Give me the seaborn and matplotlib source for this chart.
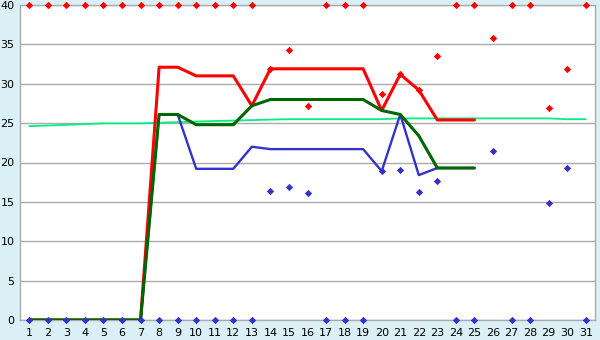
import matplotlib
matplotlib.use("Agg")
import matplotlib.pyplot as plt
import seaborn as sns
import pandas as pd

# ---- data ----
days = list(range(1, 32))
line_days = list(range(1, 26))
red_line = [0, 0, 0, 0, 0, 0, 0, 32.1, 32.1, 31.0, 31.0, 31.0, 27.2, 31.9, 31.9, 31.9,
            31.9, 31.9, 31.9, 26.6, 31.2, 29.2, 25.4, 25.4, 25.4]
blue_line = [0, 0, 0, 0, 0, 0, 0, 26.1, 26.1, 19.2, 19.2, 19.2, 22.0, 21.7, 21.7, 21.7,
             21.7, 21.7, 21.7, 18.9, 26.1, 18.4, 19.3, 19.3, 19.3]
green_line = [0, 0, 0, 0, 0, 0, 0, 26.1, 26.1, 24.8, 24.8, 24.8, 27.2, 28.0, 28.0, 28.0,
              28.0, 28.0, 28.0, 26.6, 26.1, 23.4, 19.3, 19.3, 19.3]
trend_line = [24.62, 24.7, 24.78, 24.88, 24.97, 24.97, 24.97, 25.05, 25.12, 25.2, 25.27,
              25.32, 25.38, 25.45, 25.5, 25.5, 25.5, 25.5, 25.5, 25.5, 25.6, 25.6, 25.6,
              25.6, 25.6, 25.6, 25.6, 25.6, 25.6, 25.5, 25.5]
red_dots = [40, 40, 40, 40, 40, 40, 40, 40, 40, 40, 40, 40, 40, 31.9, 34.3, 27.2,
            40, 40, 40, 28.7, 31.2, 29.2, 33.5, 40, 40, 35.8, 40, 40, 26.9, 31.9, 40]
blue_dots = [0, 0, 0, 0, 0, 0, 0, 0, 0, 0, 0, 0, 0, 16.4, 16.9, 16.1,
             0, 0, 0, 18.9, 19.0, 16.2, 17.6, 0, 0, 21.5, 0, 0, 14.8, 19.3, 0]
y_ticks = [0, 5, 10, 15, 20, 25, 30, 35, 40]

# ---- style ----
bg = "#DAF0F6"
grid_c = "#ABABAB"
sns.set_style("white")
plt.rcParams["font.family"] = ["DejaVu Sans"]

fig = plt.figure(figsize=(6, 3.4), dpi=100, facecolor=bg)
ax = fig.add_axes([20 / 600, 1 - 320 / 340, 575 / 600, 315 / 340])
ax.set_facecolor("white")

lines_df = pd.DataFrame({"day": line_days, "red": red_line, "blue": blue_line,
                         "green": green_line})
trend_df = pd.DataFrame({"day": days, "trend": trend_line})
dots_df = pd.DataFrame({"day": days, "hi": red_dots, "lo": blue_dots})

sns.lineplot(data=trend_df, x="day", y="trend", ax=ax, color="#00F080", linewidth=1.3,
             zorder=2)
sns.lineplot(data=lines_df, x="day", y="red", ax=ax, color="#FF0000", linewidth=2.2,
             zorder=3)
sns.lineplot(data=lines_df, x="day", y="blue", ax=ax, color="#3333CC", linewidth=1.7,
             zorder=4)
sns.lineplot(data=lines_df, x="day", y="green", ax=ax, color="#006600", linewidth=2.2,
             zorder=5)
sns.scatterplot(data=dots_df, x="day", y="hi", ax=ax, color="#FF0000", marker="D",
                s=14, linewidth=0, zorder=6, clip_on=False)
sns.scatterplot(data=dots_df, x="day", y="lo", ax=ax, color="#3333CC", marker="D",
                s=14, linewidth=0, zorder=6, clip_on=False)

ax.set_xlim(0.5, 31.5)
ax.set_ylim(0, 40)
ax.set_xticks(days)
ax.set_xticklabels([str(d) for d in days])
ax.set_yticks(y_ticks)
ax.set_yticklabels([str(v) for v in y_ticks])
ax.set_xlabel("")
ax.set_ylabel("")
ax.grid(axis="y", color=grid_c, linewidth=1)
ax.set_axisbelow(True)
for s in ax.spines.values():
    s.set_color(grid_c)
    s.set_linewidth(1)
ax.tick_params(axis="x", direction="out", length=5, width=1, color="black", pad=1,
               labelsize=8, labelcolor="black")
ax.tick_params(axis="y", direction="out", length=3, width=1, color=grid_c, pad=1,
               labelsize=8, labelcolor="black")

fig.savefig("out.png", dpi=100, facecolor=bg)
